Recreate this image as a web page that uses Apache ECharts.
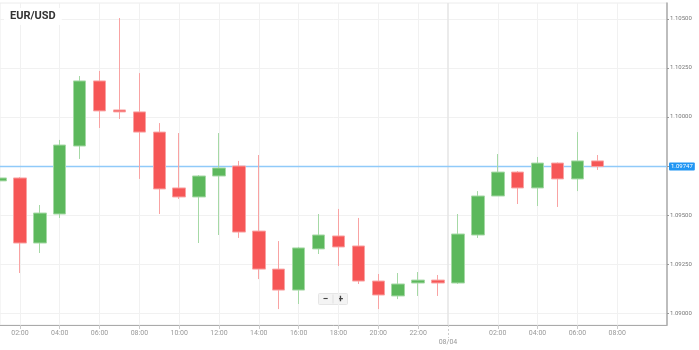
<!DOCTYPE html>
<html>
<head>
<meta charset="utf-8">
<script src="https://cdn.jsdelivr.net/npm/echarts@6/dist/echarts.min.js"></script>
<style>
html,body{margin:0;padding:0;background:#fff;}
#chart{width:699px;height:350px;}
</style>
</head>
<body>
<div id="chart"></div>
<script>
// Hours since 00:00 of the first day (second day = 24 + hour)
const hours = [1,2,3,4,5,6,7,8,9,10,11,12,13,14,15,16,17,18,19,20,21,22,23,24,25,26,27,28,29,30,31];
const openVals  = [1.09674,1.09689,1.09357,1.09505,1.09852,1.10184,1.10036,1.10026,1.09923,1.09638,1.09592,1.09699,1.09750,1.09418,1.09224,1.09117,1.09327,1.09393,1.09342,1.09163,1.09087,1.09153,1.09168,1.09153,1.09398,1.09597,1.09719,1.09638,1.09765,1.09684,1.09776];
const closeVals = [1.09689,1.09357,1.09510,1.09857,1.10184,1.10031,1.10026,1.09923,1.09633,1.09592,1.09699,1.09740,1.09413,1.09224,1.09117,1.09332,1.09398,1.09337,1.09163,1.09092,1.09148,1.09168,1.09153,1.09403,1.09597,1.09719,1.09638,1.09765,1.09684,1.09776,1.09747];
const lowVals   = [1.09546,1.09204,1.09306,1.09485,1.09786,1.09944,1.09990,1.09684,1.09505,1.09582,1.09357,1.09398,1.09383,1.09173,1.09020,1.09046,1.09301,1.09240,1.09148,1.09020,1.09071,1.09087,1.09087,1.09148,1.09383,1.09597,1.09556,1.09546,1.09541,1.09622,1.09730];
const highVals  = [1.09811,1.09694,1.09551,1.09883,1.10209,1.10235,1.10505,1.10224,1.09969,1.09918,1.09704,1.09918,1.09776,1.09806,1.09367,1.09337,1.09505,1.09531,1.09485,1.09199,1.09204,1.09209,1.09194,1.09505,1.09622,1.09811,1.09724,1.09796,1.09768,1.09923,1.09806];

const xMin = 1, xMax = 34.5;
const xTickHours = [2,4,6,8,10,12,14,16,18,20,22,26,28,30,32];
const dayBoundary = [23.5];
const dayLabel = '08/04';
const yTicks = [1.0900,1.0925,1.0950,1.0975,1.1000,1.1025,1.1050];
const yLabelTicks = [1.0900,1.0925,1.0950,1.1000,1.1025,1.1050];
const currentPrice = 1.09747;
const title = 'EUR/USD';

const candles = hours.map((h, i) => [h, openVals[i], closeVals[i], lowVals[i], highVals[i]]);
const priceLine = [[xMin, currentPrice], [xMax, currentPrice]];

const chart = echarts.init(document.getElementById('chart'), null, {renderer: 'canvas'});
const FONT = 'Roboto';
const pad = n => (n < 10 ? '0' : '') + n;

chart.setOption({
  animation: false,
  backgroundColor: '#fff',
  textStyle: {fontFamily: FONT},
  title: {
    text: title,
    left: 4, top: 8,
    padding: [3, 6],
    backgroundColor: 'rgba(255,255,255,0.92)',
    textStyle: {fontFamily: FONT, fontSize: 11, fontWeight: 'bold', color: '#333'}
  },
  grid: {
    left: 0, right: 32, top: 3, bottom: 25,
    show: true, borderColor: '#ececec', borderWidth: 1, backgroundColor: 'transparent'
  },
  xAxis: [{
    type: 'value', min: xMin, max: xMax, position: 'bottom',
    axisLine: {show: true, lineStyle: {color: '#aaa', width: 1}},
    axisTick: {show: true, customValues: xTickHours, length: 4, lineStyle: {color: '#ccc'}},
    axisLabel: {
      customValues: xTickHours, fontSize: 7, color: '#999', margin: 5, fontFamily: FONT,
      formatter: v => pad(Math.round(v) % 24) + ':00'
    },
    splitLine: {show: true, lineStyle: {color: '#f1f1f1', width: 1}}
  }, {
    type: 'value', min: xMin, max: xMax, position: 'bottom',
    axisLine: {show: false},
    axisTick: {show: true, customValues: dayBoundary, length: 13, lineStyle: {color: '#ccc', type: [2, 2]}},
    axisLabel: {customValues: dayBoundary, fontSize: 7, color: '#999', margin: 14, fontFamily: FONT, formatter: () => dayLabel},
    splitLine: {show: true, lineStyle: {color: '#e4e4e4', width: 1.5}}
  }],
  yAxis: [{
    type: 'value', position: 'right',
    min: 1.089388, max: 1.105816,
    axisLine: {show: true, lineStyle: {color: '#aaa', width: 1.5}},
    axisTick: {show: true, customValues: yTicks, length: 2, lineStyle: {color: '#999'}},
    axisLabel: {customValues: yLabelTicks, fontSize: 6, color: '#777', margin: 3, fontFamily: FONT, formatter: v => v.toFixed(5)},
    splitLine: {show: true, lineStyle: {color: '#f1f1f1', width: 1}}
  }],
  series: [{
    type: 'line',
    data: priceLine,
    symbol: 'none',
    silent: true,
    z: 1,
    lineStyle: {color: '#90caf9', width: 1.5},
    endLabel: {
      show: true, distance: 2,
      formatter: () => currentPrice.toFixed(5),
      color: '#fff', backgroundColor: '#2196f3', fontSize: 6, fontFamily: FONT,
      padding: [1, 2], borderRadius: 1
    }
  }, {
    type: 'candlestick',
    xAxisIndex: 0,
    data: candles,
    encode: {x: 0, y: [1, 2, 3, 4]},
    barWidth: 13,
    clip: false,
    z: 3,
    itemStyle: {
      color: '#5cb85c', color0: '#f65656',
      borderColor: '#a6d9a6', borderColor0: '#f9a3a3', borderWidth: 1
    }
  }],
  graphic: [{
    type: 'group', left: 318, top: 292,
    children: [
      {type: 'rect', shape: {x: 0, y: 0, width: 29, height: 11, r: 1}, style: {fill: '#f4f4f4', stroke: '#e6e6e6', lineWidth: 1}},
      {type: 'line', shape: {x1: 14.5, y1: 1, x2: 14.5, y2: 10}, style: {stroke: '#e0e0e0', lineWidth: 1}},
      {type: 'text', x: 7, y: 5.5, style: {text: '−', fontSize: 10, fontWeight: 'bold', fill: '#444', align: 'center', verticalAlign: 'middle', fontFamily: FONT}},
      {type: 'text', x: 22, y: 5.5, style: {text: '+', fontSize: 10, fontWeight: 'bold', fill: '#444', align: 'center', verticalAlign: 'middle', fontFamily: FONT}}
    ]
  }]
});
</script>
</body>
</html>
